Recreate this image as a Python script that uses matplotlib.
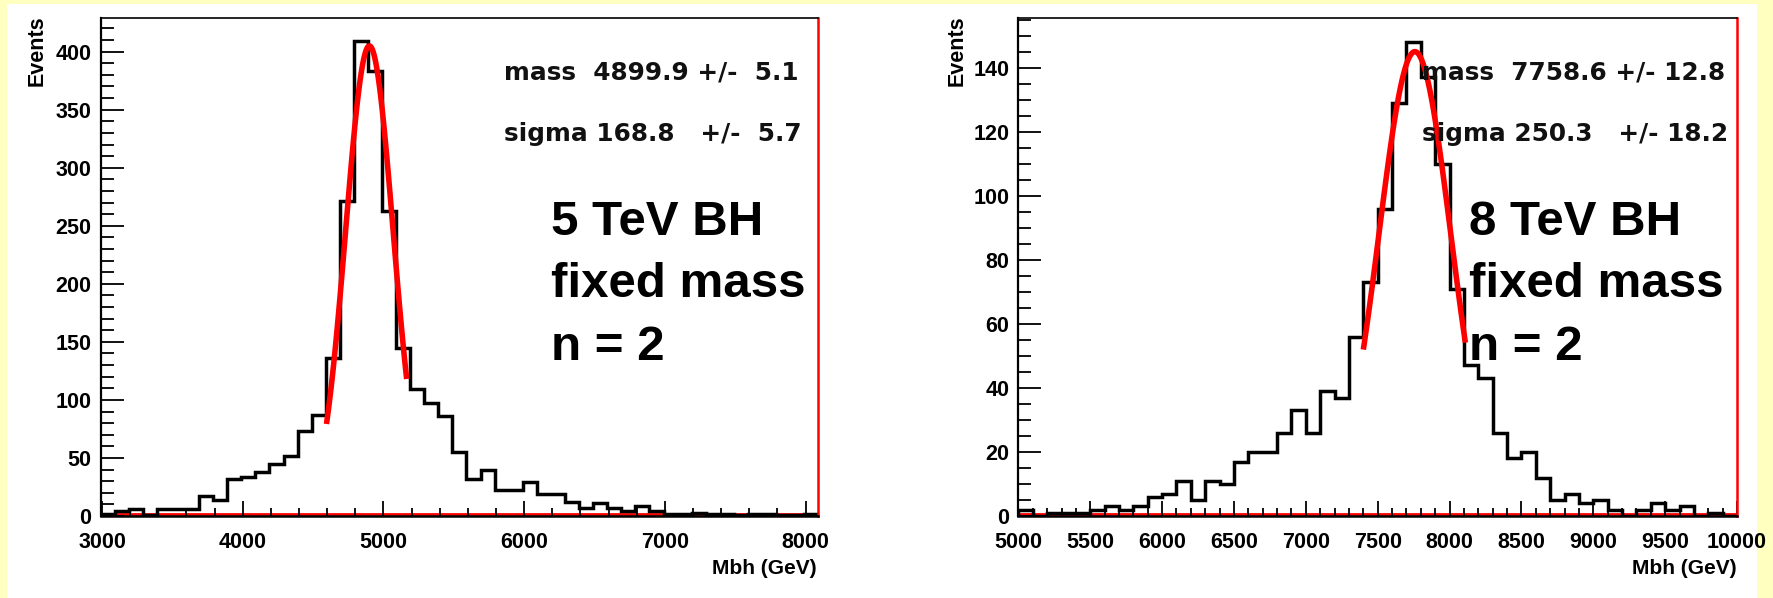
#!/usr/bin/env python
# coding: utf-8

import numpy as np
import matplotlib
matplotlib.use("Agg")
import matplotlib.pyplot as plt
from matplotlib.ticker import MultipleLocator
from matplotlib.patches import Rectangle

# --- 5 TeV black hole, reconstructed mass ---
h5_lo     = 2990
h5_width  = 100
h5_counts = [2, 4, 6, 1, 6, 6, 6, 17, 14, 32, 34, 38, 45, 52, 73, 87, 136,
             271, 409, 383, 263, 145, 109, 97, 86, 55, 32, 40, 22, 22, 29,
             19, 19, 12, 7, 11, 7, 4, 9, 4, 2, 2, 3, 2, 2, 1, 2, 2, 1, 1, 2]
fit5_const = 405
fit5_mean  = 4899.9
fit5_sigma = 168.8
fit5_range = (4595, 5165)
stats5     = ["mass  4899.9 +/-  5.1", "sigma 168.8   +/-  5.7"]
label5     = ["5 TeV BH", "fixed mass", "n = 2"]

# --- 8 TeV black hole ---
h8_lo     = 5000
h8_width  = 100
h8_counts = [2, 0, 1, 1, 1, 2, 3, 2, 3, 6, 7, 11, 5, 11, 10, 17, 20, 20, 26, 33,
             26, 39, 37, 56, 73, 96, 129, 148, 137, 110, 71, 47, 43, 26, 18, 20,
             12, 5, 7, 4, 5, 2, 0, 2, 4, 2, 3, 0, 1, 0]
fit8_const = 145
fit8_mean  = 7758.6
fit8_sigma = 250.3
fit8_range = (7400, 8110)
stats8     = ["mass  7758.6 +/- 12.8", "sigma 250.3   +/- 18.2"]
label8     = ["8 TeV BH", "fixed mass", "n = 2"]

COLOR_BG   = "#FFFFC0"
COLOR_HIST = "black"
COLOR_FIT  = "#FF0000"
FONT       = "Liberation Sans"

fig = plt.figure(figsize=(17.73, 5.98), dpi=100)
fig.patch.set_facecolor(COLOR_BG)
# white canvas inside the yellow border, kept behind the axes
fig.patches.append(Rectangle((7/1773, 0), 1750/1773, 594/598, transform=fig.transFigure,
                             facecolor="white", edgecolor="none", zorder=-5))


def draw_panel(rect, lo, width, counts, fit, xlim, ylim, xmajor, xminor, ymajor, yminor,
               stats, label, stats_x, label_x):
    ax = fig.add_axes(rect)
    ax.set_facecolor("white")
    edges = lo + width * np.arange(len(counts) + 1)

    # red line along the bottom (fit drawn out of range)
    ax.axhline(ylim[1] * 0.004, color=COLOR_FIT, lw=2.0, zorder=1)
    ax.stairs(counts, edges, color=COLOR_HIST, lw=2.5, zorder=2)

    const, mean, sigma, (f0, f1) = fit
    fx = np.linspace(f0, f1, 120)
    ax.plot(fx, const * np.exp(-0.5 * ((fx - mean) / sigma) ** 2),
            color=COLOR_FIT, lw=4.0, zorder=3, solid_capstyle="butt")

    ax.set_xlim(*xlim)
    ax.set_ylim(*ylim)
    ax.xaxis.set_major_locator(MultipleLocator(xmajor))
    ax.xaxis.set_minor_locator(MultipleLocator(xminor))
    ax.yaxis.set_major_locator(MultipleLocator(ymajor))
    ax.yaxis.set_minor_locator(MultipleLocator(yminor))
    ax.tick_params(axis="both", which="both", direction="in", width=1.3, colors="black")
    ax.tick_params(axis="y", which="major", length=16.5, pad=6.5)
    ax.tick_params(axis="y", which="minor", length=9)
    ax.tick_params(axis="x", which="major", length=10.8, pad=11.5)
    ax.tick_params(axis="x", which="minor", length=6)
    for t in ax.get_xticklabels() + ax.get_yticklabels():
        t.set_fontfamily(FONT)
        t.set_fontweight("bold")
        t.set_fontsize(15.5)

    ax.spines["left"].set_linewidth(1.6)
    ax.spines["bottom"].set_linewidth(1.8)
    ax.spines["top"].set_linewidth(1.2)
    ax.spines["right"].set_linewidth(1.8)
    ax.spines["right"].set_color(COLOR_FIT)

    # fit results
    for s, yb in zip(stats, [0.8775, 0.753]):
        ax.text(stats_x, yb, s, transform=ax.transAxes, ha="left", va="baseline",
                fontsize=17.8, fontweight="bold", family="DejaVu Sans", color="#111111", zorder=4)
    for s, yb in zip(label, [0.5643, 0.4398, 0.3133]):
        ax.text(label_x, yb, s, transform=ax.transAxes, ha="left", va="baseline",
                fontsize=35.5, fontweight="bold", family=FONT, color="black", zorder=4)
    return ax


ax5 = draw_panel([100.6/1773, 1 - 516/598, 717.7/1773, 498/598],
                 h5_lo, h5_width, h5_counts,
                 (fit5_const, fit5_mean, fit5_sigma, fit5_range),
                 (2990, 8090), (0, 429), 1000, 200, 50, 10,
                 stats5, label5, 0.562, 0.6276)

ax8 = draw_panel([1018.4/1773, 1 - 516/598, 718.6/1773, 498/598],
                 h8_lo, h8_width, h8_counts,
                 (fit8_const, fit8_mean, fit8_sigma, fit8_range),
                 (5000, 10000), (0, 155.5), 500, 100, 20, 5,
                 stats8, label8, 0.562, 0.627)

# axis titles, ROOT style (at the ends of the axes)
for xc in [37/1773, 957/1773]:
    fig.text(xc, 1 - 15/598, "Events", rotation=90, ha="center", va="top",
             fontsize=15.5, fontweight="bold", family=FONT)
for xr in [817/1773, 1737/1773]:
    fig.text(xr, 24/598, "Mbh (GeV)", ha="right", va="baseline",
             fontsize=15, fontweight="bold", family=FONT)

fig.savefig("out.png", dpi=100, facecolor=fig.get_facecolor())
